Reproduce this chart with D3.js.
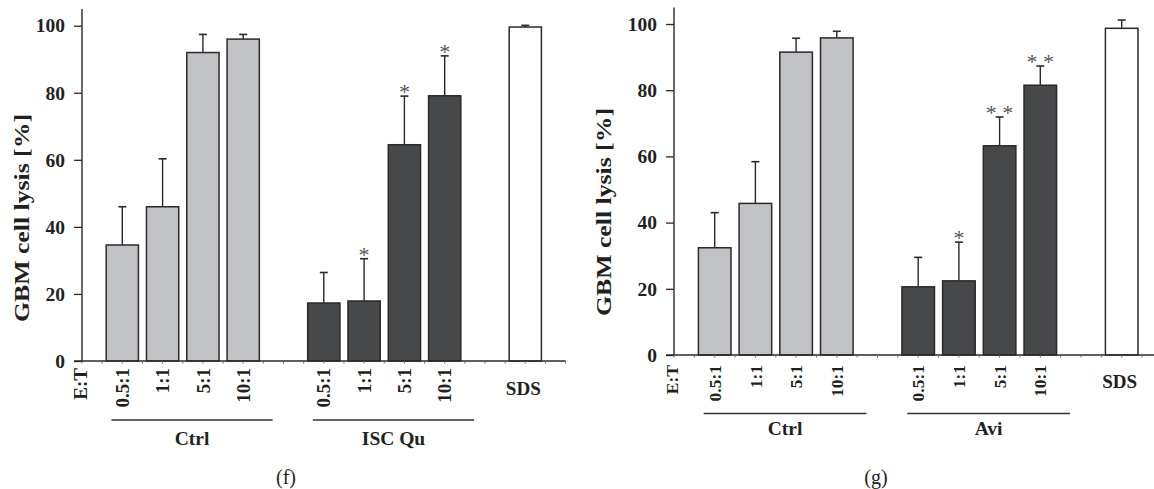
<!DOCTYPE html>
<html>
<head>
<meta charset="utf-8">
<script src="https://cdn.jsdelivr.net/npm/d3@7"></script>
<style>
  body { margin: 0; background: #fff; }
  svg { display: block; font-family: "Liberation Serif", "Times New Roman", serif; }
</style>
</head>
<body>
<svg id="chart" width="1154" height="489"></svg>
<script>
// ratios E:T
const ratios = ["0.5:1", "1:1", "5:1", "10:1"];
const yTicks = [0, 20, 40, 60, 80, 100];

// panel (f)
const fGroups = ["Ctrl", "ISC Qu"];
const fCtrl = [34.6, 46.0, 92.0, 96.0];
const fCtrlSd = [11.4, 14.3, 5.4, 1.4];
const fIsc = [17.3, 17.9, 64.5, 79.1];
const fIscSd = [9.1, 12.6, 14.5, 11.9];
const fIscSig = ["", "*", "*", "*"];
const fSds = 99.6;
const fSdsSd = 0.5;

// panel (g)
const gGroups = ["Ctrl", "Avi"];
const gCtrl = [32.4, 45.8, 91.5, 95.8];
const gCtrlSd = [10.6, 12.6, 4.2, 2.0];
const gAvi = [20.6, 22.4, 63.2, 81.5];
const gAviSd = [8.9, 11.7, 8.7, 5.8];
const gAviSig = ["", "*", "* *", "* *"];
const gSds = 98.7;
const gSdsSd = 2.5;

const svg = d3.select("#chart");

const panels = [
  {
    tag: "(f)", tagX: 286,
    x0: 82, pitch: 40.3, yBase: 361, yTop: 25.7,
    groups: fGroups, ctrl: fCtrl, ctrlSd: fCtrlSd, treat: fIsc, treatSd: fIscSd, sig: fIscSig,
    sds: fSds, sdsSd: fSdsSd, xFont: 19, lineDy: 59, labDy: 84, sdsDy: 34, tickTop: 7,
    titleX: 22, titleY: 218
  },
  {
    tag: "(g)", tagX: 876,
    x0: 674, pitch: 40.7, yBase: 355, yTop: 24,
    groups: gGroups, ctrl: gCtrl, ctrlSd: gCtrlSd, treat: gAvi, treatSd: gAviSd, sig: gAviSig,
    sds: gSds, sdsSd: gSdsSd, xFont: 17.5, lineDy: 58.5, labDy: 80, sdsDy: 33, tickTop: 10,
    titleX: 604, titleY: 212
  }
];

const light = "#c1c2c6";
const dark = "#47484a";
const ink = "#2a2a2a";
const txt = "#231f20";

panels.forEach((p) => {
  // slot -1 sits on the y axis, bars at 0..3, 5..8, SDS at 10
  const x = d3.scaleLinear().domain([-1, 11]).range([p.x0, p.x0 + 12 * p.pitch]);
  const y = d3.scaleLinear().domain([0, 100]).range([p.yBase, p.yTop]);
  const bw = p.pitch * 0.8;

  const g = svg.append("g");

  // bars table
  const bars = [];
  p.ctrl.forEach((v, i) => bars.push({ slot: i, v: v, sd: p.ctrlSd[i], fill: light, sig: "", lab: ratios[i] }));
  p.treat.forEach((v, i) => bars.push({ slot: 5 + i, v: v, sd: p.treatSd[i], fill: dark, sig: p.sig[i], lab: ratios[i] }));
  bars.push({ slot: 10, v: p.sds, sd: p.sdsSd, fill: "#fff", sig: "", lab: null });

  // error bars (upper only)
  g.selectAll(".err")
    .data(bars)
    .join("line")
    .attr("x1", (d) => x(d.slot))
    .attr("x2", (d) => x(d.slot))
    .attr("y1", (d) => y(d.v))
    .attr("y2", (d) => y(d.v + d.sd))
    .attr("stroke", ink)
    .attr("stroke-width", 1.4);

  g.selectAll(".cap")
    .data(bars)
    .join("line")
    .attr("x1", (d) => x(d.slot) - 4)
    .attr("x2", (d) => x(d.slot) + 4)
    .attr("y1", (d) => y(d.v + d.sd))
    .attr("y2", (d) => y(d.v + d.sd))
    .attr("stroke", ink)
    .attr("stroke-width", 1.6);

  g.selectAll("rect")
    .data(bars)
    .join("rect")
    .attr("x", (d) => x(d.slot) - bw / 2)
    .attr("width", bw)
    .attr("y", (d) => y(d.v))
    .attr("height", (d) => y(0) - y(d.v))
    .attr("fill", (d) => d.fill)
    .attr("stroke", ink)
    .attr("stroke-width", 1.5);

  // significance stars
  g.selectAll(".sig")
    .data(bars.filter((d) => d.sig))
    .join("text")
    .attr("x", (d) => x(d.slot))
    .attr("y", (d) => y(d.v + d.sd) + 3)
    .attr("text-anchor", "middle")
    .attr("font-size", 22)
    .attr("fill", "#555")
    .text((d) => d.sig);

  // y axis
  const yAxis = d3.axisLeft(y).tickValues(yTicks).tickSize(8).tickPadding(9);
  const yg = g.append("g")
    .attr("transform", `translate(${p.x0},0)`)
    .call(yAxis);
  yg.select(".domain").remove();
  yg.selectAll(".tick line").attr("stroke", ink).attr("stroke-width", 1.3);
  yg.selectAll(".tick text")
    .attr("font-family", "Liberation Serif, serif")
    .attr("font-size", 19.5)
    .attr("font-weight", "bold")
    .attr("fill", txt);
  g.append("line")
    .attr("x1", p.x0).attr("x2", p.x0)
    .attr("y1", y(0)).attr("y2", y(105))
    .attr("stroke", ink).attr("stroke-width", 1.4);

  // x axis with small ticks every half slot
  const xEnd = Math.min(x(11), 1154);
  g.append("line")
    .attr("x1", p.x0 - 8).attr("x2", xEnd)
    .attr("y1", y(0)).attr("y2", y(0))
    .attr("stroke", ink).attr("stroke-width", 1.4);
  g.selectAll(".mtick")
    .data(d3.range(-1, 11.01, 0.5))
    .join("line")
    .attr("x1", (d) => x(d)).attr("x2", (d) => x(d))
    .attr("y1", y(0)).attr("y2", y(0) + 2.5)
    .attr("stroke", "#666").attr("stroke-width", 1);

  // rotated ratio labels
  const rot = [{ slot: -1.05, lab: "E:T" }].concat(bars.filter((d) => d.lab));
  g.selectAll(".xl")
    .data(rot)
    .join("text")
    .attr("transform", (d) => `translate(${x(d.slot)},${y(0) + p.tickTop}) rotate(-90)`)
    .attr("text-anchor", "end")
    .attr("dy", "0.35em")
    .attr("font-size", p.xFont)
    .attr("font-weight", "bold")
    .attr("fill", txt)
    .text((d) => d.lab);

  // SDS label
  g.append("text")
    .attr("x", x(10) - 2)
    .attr("y", y(0) + p.sdsDy)
    .attr("text-anchor", "middle")
    .attr("font-size", 19)
    .attr("font-weight", "bold")
    .attr("fill", txt)
    .text("SDS");

  // group underlines and names
  p.groups.forEach((name, k) => {
    const s = k * 5;
    g.append("line")
      .attr("x1", x(s - 0.27)).attr("x2", x(s + 3.73))
      .attr("y1", y(0) + p.lineDy).attr("y2", y(0) + p.lineDy)
      .attr("stroke", "#333").attr("stroke-width", 1.3);
    g.append("text")
      .attr("x", x(s + 1.73))
      .attr("y", y(0) + p.labDy)
      .attr("text-anchor", "middle")
      .attr("font-size", 19.5)
      .attr("font-weight", "bold")
      .attr("fill", txt)
      .text(name);
  });

  // y axis title
  g.append("text")
    .attr("transform", `translate(${p.titleX},${p.titleY}) rotate(-90)`)
    .attr("text-anchor", "middle")
    .attr("dy", "0.35em")
    .attr("font-size", 21)
    .attr("font-weight", "bold")
    .attr("fill", txt)
    .attr("textLength", 208)
    .attr("lengthAdjust", "spacingAndGlyphs")
    .text("GBM cell lysis [%]");

  // panel tag
  svg.append("text")
    .attr("x", p.tagX)
    .attr("y", 484)
    .attr("text-anchor", "middle")
    .attr("font-size", 20)
    .attr("fill", txt)
    .text(p.tag);
});
</script>
</body>
</html>
